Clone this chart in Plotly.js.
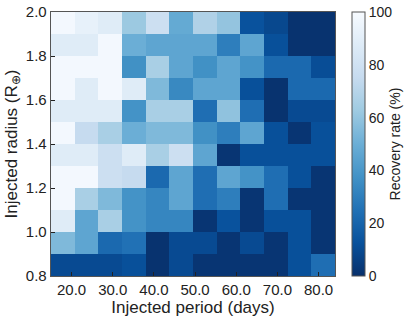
<!DOCTYPE html>
<html>
<head>
<meta charset="utf-8">
<script src="https://cdn.plot.ly/plotly-3.0.1.min.js"></script>
<style>
  html, body { margin: 0; padding: 0; background: #fff; }
  #plot { width: 415px; height: 321px; }
</style>
</head>
<body>
<div id="plot"></div>
<script>
// Recovery rate (%) per cell, rows from radius 0.8 (bottom) to 2.0 (top)
const recovery = [
  [10, 10, 10, 12, 1, 10, 2, 2, 2, 2, 12, 24],
  [55, 46, 22, 25, 1, 10, 10, 2, 10, 2, 12, 2],
  [88, 46, 66, 38, 33, 33, 2, 13, 2, 12, 12, 2],
  [98, 66, 55, 38, 33, 46, 24, 30, 2, 24, 2, 2],
  [98, 98, 78, 75, 22, 46, 24, 46, 38, 24, 12, 2],
  [88, 88, 78, 88, 66, 78, 46, 2, 12, 12, 12, 12],
  [98, 75, 66, 50, 55, 55, 37, 30, 46, 12, 2, 12],
  [88, 88, 88, 38, 66, 66, 24, 59, 24, 1, 10, 10],
  [98, 88, 98, 88, 55, 34, 46, 46, 12, 1, 22, 22],
  [98, 98, 98, 37, 66, 46, 37, 46, 38, 22, 22, 11],
  [88, 88, 98, 50, 46, 46, 46, 30, 46, 12, 1, 1],
  [98, 92, 88, 62, 78, 48, 68, 60, 13, 9, 1, 1],
];

const periodTicks = [20, 30, 40, 50, 60, 70, 80];
const radiusTicks = [0.8, 1.0, 1.2, 1.4, 1.6, 1.8, 2.0];
const cbarTicks = [0, 20, 40, 60, 80, 100];

// matplotlib "Blues_r"
const bluesR = [
  [0.0, "#08306b"],
  [0.125, "#08519c"],
  [0.25, "#2171b5"],
  [0.375, "#4292c6"],
  [0.5, "#6baed6"],
  [0.625, "#9ecae1"],
  [0.75, "#c6dbef"],
  [0.875, "#deebf7"],
  [1.0, "#f7fbff"],
];

const font = { family: "Liberation Sans, Arial, sans-serif", color: "#222" };

const heat = {
  type: "heatmap",
  z: recovery,
  x0: 17.875,
  dx: 5.75,
  y0: 0.85,
  dy: 0.1,
  zmin: 0,
  zmax: 100,
  colorscale: bluesR,
  colorbar: {
    x: 1.06,
    xanchor: "left",
    xpad: 0,
    y: 0.5,
    len: 1,
    ypad: 0,
    thickness: 13,
    outlinewidth: 1,
    outlinecolor: "#555",
    tickvals: cbarTicks,
    ticks: "",
    tickfont: { ...font, size: 14 },
    title: { text: "Recovery rate (%)", side: "right", font: { ...font, size: 14 } },
  },
};

const axisCommon = {
  showline: true,
  mirror: true,
  linecolor: "#555",
  linewidth: 1.3,
  ticks: "inside",
  ticklen: 4,
  tickwidth: 1,
  tickcolor: "#222",
  showgrid: false,
  zeroline: false,
  tickformat: ".1f",
  tickfont: { ...font, size: 15 },
};

const layout = {
  width: 415,
  height: 321,
  margin: { l: 51, r: 80, t: 12, b: 45 },
  paper_bgcolor: "#fff",
  plot_bgcolor: "#fff",
  font: font,
  xaxis: {
    ...axisCommon,
    range: [15, 84],
    tickvals: periodTicks,
    title: { text: "Injected period (days)", font: { ...font, size: 17 }, standoff: 3 },
  },
  yaxis: {
    ...axisCommon,
    range: [0.8, 2.0],
    tickvals: radiusTicks,
    title: { text: "Injected radius (R<sub>⊕</sub>)", font: { ...font, size: 17 }, standoff: 4 },
  },
};

Plotly.newPlot("plot", [heat], layout, { displayModeBar: false, staticPlot: true });
</script>
</body>
</html>
